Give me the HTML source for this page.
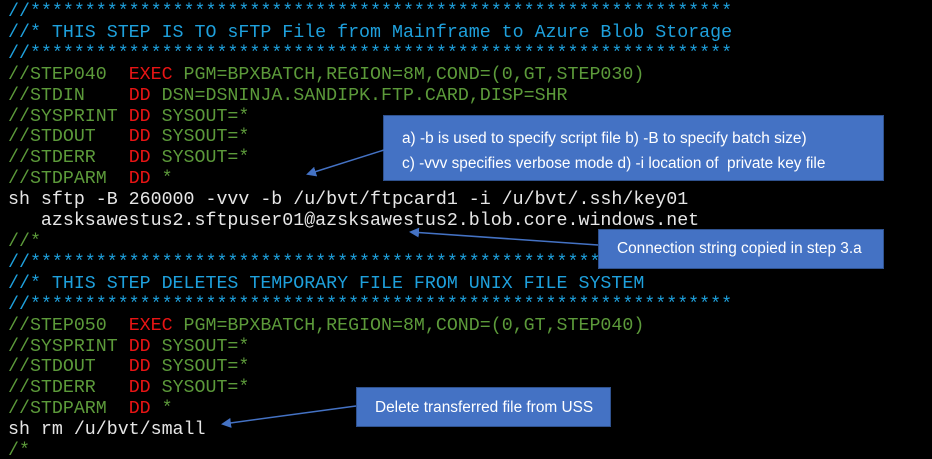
<!DOCTYPE html>
<html><head><style>
html,body{margin:0;padding:0;background:#000;width:932px;height:459px;overflow:hidden;position:relative}
pre{position:absolute;left:8px;top:2px;margin:0;font-family:"Liberation Mono",monospace;font-size:18.3px;line-height:20.9px;color:#e6e6e6}
.b{color:#1ea0dc}.g{color:#5c9a3a}.r{color:#e81414}.w{color:#e6e6e6}
.box{position:absolute;background:#4472c4;border:1px solid #2f528f;color:#fff;font-family:"Liberation Sans",sans-serif;font-size:15.4px;box-sizing:border-box;white-space:nowrap}
svg{position:absolute;left:0;top:0}
</style></head><body>
<pre><span class="b">//****************************************************************
//* THIS STEP IS TO sFTP File from Mainframe to Azure Blob Storage
//****************************************************************</span>
<span class="g">//STEP040  </span><span class="r">EXEC</span><span class="g"> PGM=BPXBATCH,REGION=8M,COND=(0,GT,STEP030)</span>
<span class="g">//STDIN    </span><span class="r">DD</span><span class="g"> DSN=DSNINJA.SANDIPK.FTP.CARD,DISP=SHR</span>
<span class="g">//SYSPRINT </span><span class="r">DD</span><span class="g"> SYSOUT=*</span>
<span class="g">//STDOUT   </span><span class="r">DD</span><span class="g"> SYSOUT=*</span>
<span class="g">//STDERR   </span><span class="r">DD</span><span class="g"> SYSOUT=*</span>
<span class="g">//STDPARM  </span><span class="r">DD</span><span class="g"> *</span>
sh sftp -B 260000 -vvv -b /u/bvt/ftpcard1 -i /u/bvt/.ssh/key01
   azsksawestus2.sftpuser01@azsksawestus2.blob.core.windows.net
<span class="g">//*</span>
<span class="b">//****************************************************************
//* THIS STEP DELETES TEMPORARY FILE FROM UNIX FILE SYSTEM
//****************************************************************</span>
<span class="g">//STEP050  </span><span class="r">EXEC</span><span class="g"> PGM=BPXBATCH,REGION=8M,COND=(0,GT,STEP040)</span>
<span class="g">//SYSPRINT </span><span class="r">DD</span><span class="g"> SYSOUT=*</span>
<span class="g">//STDOUT   </span><span class="r">DD</span><span class="g"> SYSOUT=*</span>
<span class="g">//STDERR   </span><span class="r">DD</span><span class="g"> SYSOUT=*</span>
<span class="g">//STDPARM  </span><span class="r">DD</span><span class="g"> *</span>
sh rm /u/bvt/small
<span class="g">/*</span></pre>
<div class="box" style="left:383px;top:115px;width:501px;height:66px;padding:10px 0 0 18px;line-height:25px">a) -b is used to specify script file b) -B to specify batch size)<br>c) -vvv specifies verbose mode d) -i location of&nbsp; private key file</div>
<div class="box" style="left:598px;top:229px;width:286px;height:40px;padding:10px 0 0 18px;line-height:18px">Connection string copied in step 3.a</div>
<div class="box" style="left:356px;top:387px;width:255px;height:40px;padding:11px 0 0 18px;line-height:18px">Delete transferred file from USS</div>
<svg width="932" height="459">
<defs><marker id="a" markerWidth="10" markerHeight="10" refX="8" refY="5" orient="auto" markerUnits="userSpaceOnUse"><path d="M0,0 L10,5 L0,10 z" fill="#4472c4"/></marker></defs>
<g stroke="#4472c4" stroke-width="1.5" fill="none">
<line x1="384" y1="150" x2="308" y2="174" marker-end="url(#a)"/>
<line x1="598" y1="245" x2="411" y2="232" marker-end="url(#a)"/>
<line x1="356" y1="406" x2="223" y2="424" marker-end="url(#a)"/>
</g>
</svg>
</body></html>
